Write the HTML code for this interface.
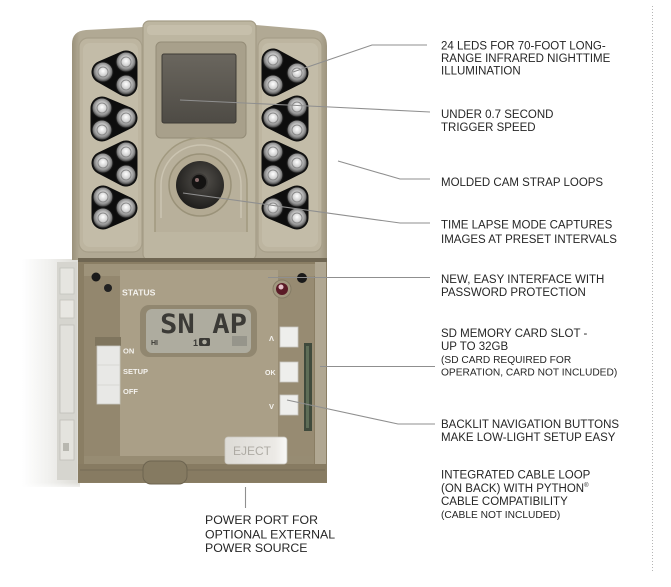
<!DOCTYPE html>
<html><head><meta charset="utf-8"><style>
html,body{margin:0;padding:0;background:#fff;}
body{width:671px;height:587px;overflow:hidden;}
svg{display:block;}
.lb{font-family:"Liberation Sans",Arial,sans-serif;font-size:11.5px;fill:#262626;}
.sm{font-family:"Liberation Sans",Arial,sans-serif;font-size:10.2px;fill:#262626;}
.pw{font-family:"Liberation Sans",Arial,sans-serif;font-size:12.3px;fill:#262626;}
.wt{font-family:"Liberation Sans",Arial,sans-serif;font-weight:bold;fill:#f4f2ee;}
</style></head><body>
<svg width="671" height="587" viewBox="0 0 671 587" xmlns="http://www.w3.org/2000/svg">
<defs>
<radialGradient id="led" cx="50%" cy="45%" r="55%">
<stop offset="0" stop-color="#ffffff"/><stop offset="0.4" stop-color="#d2d2d2"/>
<stop offset="0.75" stop-color="#8a8a8a"/><stop offset="1" stop-color="#2e2e2e"/>
</radialGradient>
<linearGradient id="topbody" x1="0" x2="1" y1="0" y2="0">
<stop offset="0" stop-color="#9a917b"/><stop offset="0.03" stop-color="#b1a994"/>
<stop offset="0.97" stop-color="#b1a994"/><stop offset="1" stop-color="#9d947e"/>
</linearGradient>
<linearGradient id="win" x1="0" x2="0" y1="0" y2="1">
<stop offset="0" stop-color="#6a665e"/><stop offset="1" stop-color="#4e4b45"/>
</linearGradient>
<radialGradient id="lens" cx="55%" cy="40%" r="60%">
<stop offset="0" stop-color="#55524d"/><stop offset="1" stop-color="#1f1e1c"/>
</radialGradient>
<linearGradient id="door" x1="0" x2="1" y1="0" y2="0">
<stop offset="0" stop-color="#ffffff"/><stop offset="0.45" stop-color="#f1f1ef"/>
<stop offset="1" stop-color="#dcdbd5"/>
</linearGradient>
<linearGradient id="doorv" x1="0" x2="0" y1="0" y2="1">
<stop offset="0" stop-color="#fff" stop-opacity="0"/><stop offset="0.85" stop-color="#fff" stop-opacity="0"/>
<stop offset="1" stop-color="#fff" stop-opacity="0.9"/>
</linearGradient>
<linearGradient id="eject" x1="0" x2="1" y1="0" y2="0">
<stop offset="0" stop-color="#dddbd6"/><stop offset="0.8" stop-color="#eceae6"/><stop offset="1" stop-color="#f8f8f6"/>
</linearGradient>
</defs>

<!-- dotted divider -->
<line x1="652.5" y1="6" x2="652.5" y2="572" stroke="#b5b5b5" stroke-width="1" stroke-dasharray="1,2"/>

<!-- ===== DOOR (left) ===== -->
<rect x="22" y="259" width="58" height="228" fill="url(#door)"/>
<rect x="57" y="262" width="20" height="218" fill="#d6d5cf"/>
<rect x="60" y="268" width="14" height="26" fill="#e6e5e0" stroke="#c4c3bc" stroke-width="0.8"/>
<rect x="60" y="300" width="14" height="18" fill="#e8e7e2" stroke="#c4c3bc" stroke-width="0.8"/>
<rect x="60" y="325" width="14" height="88" fill="#e2e1dc" stroke="#c0bfb8" stroke-width="0.8"/>
<rect x="60" y="420" width="14" height="40" fill="#e4e3de" stroke="#c0bfb8" stroke-width="0.8"/>
<rect x="63" y="443" width="6" height="8" fill="#b8b7b0"/>
<rect x="22" y="440" width="58" height="50" fill="url(#doorv)"/>

<!-- ===== TOP BODY ===== -->
<path d="M72,260 L72,44 Q72,31 86,30 L143,27 L256,25 L314,30 Q327,32 327,46 L327,260 Z" fill="url(#topbody)"/>
<rect x="79" y="38" width="63" height="214" rx="9" fill="#bdb5a0" stroke="#a79f89" stroke-width="1.2"/>
<rect x="83" y="43" width="55" height="204" rx="7" fill="#c3bca8"/>
<rect x="258" y="38" width="64" height="214" rx="9" fill="#bdb5a0" stroke="#a79f89" stroke-width="1.2"/>
<rect x="262" y="43" width="56" height="204" rx="7" fill="#c3bca8"/>
<rect x="143" y="21" width="113" height="239" rx="6" fill="#bdb6a1" stroke="#a49c86" stroke-width="1.2"/>
<rect x="147" y="25" width="105" height="10" rx="4" fill="#c6bfab"/>
<rect x="156" y="42" width="90" height="96" rx="5" fill="#a8a08b" stroke="#948c77" stroke-width="1"/>
<rect x="162" y="54" width="74" height="69" rx="2" fill="url(#win)"/>
<rect x="162" y="54" width="74" height="69" rx="2" fill="none" stroke="#3e3b36" stroke-width="1"/>
<path d="M155,232 L155,184 A46,46 0 0 1 247,184 L247,232" fill="#b8b09b" stroke="#a1997f" stroke-width="1.5"/>
<path d="M161,218 L161,185 A40,40 0 0 1 241,185 L241,218" fill="none" stroke="#cbc4b1" stroke-width="1.5"/>
<circle cx="200" cy="185" r="31" fill="#b3aa93" stroke="#9a9279" stroke-width="1.5"/>
<circle cx="200" cy="185" r="24" fill="url(#lens)"/>
<circle cx="199" cy="182" r="8" fill="#141312" stroke="#3a3835" stroke-width="1.5"/>
<circle cx="197" cy="180" r="2" fill="#8a6c6c"/>

<!-- LED clusters -->
<g fill="#0d0d0d" stroke="#0d0d0d" stroke-width="23" stroke-linejoin="round">
<polygon points="103,72 126,62 126,85"/>
<polygon points="102,108 102,130 126,118"/>
<polygon points="126,152 103,163 126,175"/>
<polygon points="103,197 103,218 126,208"/>
<polygon points="273,60 273,85 297,73"/>
<polygon points="297,107 273,118 297,130"/>
<polygon points="273,152 297,163 273,175"/>
<polygon points="297,197 273,208 297,218"/>
</g>
<g fill="url(#led)" stroke="#1a1a1a" stroke-width="1">
<circle cx="103" cy="72" r="10"/><circle cx="126" cy="62" r="10"/><circle cx="126" cy="85" r="10"/>
<circle cx="102" cy="108" r="10"/><circle cx="102" cy="130" r="10"/><circle cx="126" cy="118" r="10"/>
<circle cx="126" cy="152" r="10"/><circle cx="103" cy="163" r="10"/><circle cx="126" cy="175" r="10"/>
<circle cx="103" cy="197" r="10"/><circle cx="103" cy="218" r="10"/><circle cx="126" cy="208" r="10"/>
<circle cx="273" cy="60" r="10"/><circle cx="273" cy="85" r="10"/><circle cx="297" cy="73" r="10"/>
<circle cx="297" cy="107" r="10"/><circle cx="273" cy="118" r="10"/><circle cx="297" cy="130" r="10"/>
<circle cx="273" cy="152" r="10"/><circle cx="297" cy="163" r="10"/><circle cx="273" cy="175" r="10"/>
<circle cx="297" cy="197" r="10"/><circle cx="273" cy="208" r="10"/><circle cx="297" cy="218" r="10"/>
</g>
<g fill="none" stroke="#8a8a8a" stroke-width="1">
<circle cx="103" cy="72" r="5"/><circle cx="126" cy="62" r="5"/><circle cx="126" cy="85" r="5"/>
<circle cx="102" cy="108" r="5"/><circle cx="102" cy="130" r="5"/><circle cx="126" cy="118" r="5"/>
<circle cx="126" cy="152" r="5"/><circle cx="103" cy="163" r="5"/><circle cx="126" cy="175" r="5"/>
<circle cx="103" cy="197" r="5"/><circle cx="103" cy="218" r="5"/><circle cx="126" cy="208" r="5"/>
<circle cx="273" cy="60" r="5"/><circle cx="273" cy="85" r="5"/><circle cx="297" cy="73" r="5"/>
<circle cx="297" cy="107" r="5"/><circle cx="273" cy="118" r="5"/><circle cx="297" cy="130" r="5"/>
<circle cx="273" cy="152" r="5"/><circle cx="297" cy="163" r="5"/><circle cx="273" cy="175" r="5"/>
<circle cx="297" cy="197" r="5"/><circle cx="273" cy="208" r="5"/><circle cx="297" cy="218" r="5"/>
</g>

<!-- ===== BOTTOM BODY ===== -->
<rect x="78" y="258" width="249" height="225" fill="#8a7e64"/>
<rect x="78" y="258" width="249" height="4" fill="#6f6652"/>
<rect x="84" y="264" width="232" height="12" fill="#9e937a"/>
<rect x="84" y="276" width="36" height="180" fill="#93876e"/>
<rect x="120" y="270" width="158" height="186" fill="#aa9f87"/>
<rect x="278" y="276" width="36" height="180" fill="#978b72"/>
<rect x="315" y="262" width="11" height="220" fill="#b0a792"/>
<rect x="84" y="456" width="230" height="8" fill="#978c73"/>
<rect x="78" y="464" width="249" height="18" fill="#877b62"/>
<line x1="80" y1="470" x2="325" y2="470" stroke="#746b56" stroke-width="1"/>
<rect x="143" y="461" width="44" height="23" rx="8" fill="#857a61" stroke="#6d6450" stroke-width="1"/>
<circle cx="96" cy="277" r="4.5" fill="#1a1a1a"/>
<circle cx="108" cy="288" r="4" fill="#222"/>
<circle cx="302" cy="278" r="5" fill="#1a1a1a"/>
<circle cx="282" cy="289" r="9" fill="#a29880" stroke="#857b65" stroke-width="1"/>
<circle cx="282" cy="289" r="6" fill="#5a1a26"/>
<circle cx="281" cy="287" r="2.5" fill="#e4c0c8"/>
<text x="122" y="295.5" class="wt" font-size="8.7">STATUS</text>
<!-- LCD -->
<rect x="140" y="305" width="117" height="52" rx="9" fill="#918770"/>
<rect x="146" y="309" width="105" height="44" rx="6" fill="#aeac9f"/>
<text x="160" y="333" font-family="DejaVu Sans Mono,'Liberation Mono',monospace" font-weight="bold" font-size="27" fill="#3b3a36" textLength="87" lengthAdjust="spacingAndGlyphs">SN AP</text>
<text x="151" y="345" font-family="'Liberation Sans',sans-serif" font-weight="bold" font-size="7" fill="#3b3a36">HI</text>
<text x="193" y="346" font-family="'Liberation Sans',sans-serif" font-weight="bold" font-size="9" fill="#3b3a36">1</text>
<rect x="199" y="338" width="11" height="8" rx="1.5" fill="#3b3a36"/>
<circle cx="204.5" cy="342" r="2.3" fill="#aeac9f"/>
<rect x="232" y="336" width="15" height="10" fill="#96958b"/>
<!-- power switch -->
<rect x="95" y="337" width="26" height="9" fill="#7f755e"/>
<rect x="97" y="346" width="23" height="58" fill="#e8e8e6" stroke="#c9c8c2" stroke-width="0.8"/>
<line x1="97" y1="365" x2="120" y2="365" stroke="#d4d3ce" stroke-width="0.8"/>
<line x1="97" y1="385" x2="120" y2="385" stroke="#d4d3ce" stroke-width="0.8"/>
<text x="123" y="353.5" class="wt" font-size="7.5">ON</text>
<text x="123" y="374" class="wt" font-size="7.5">SETUP</text>
<text x="123" y="394" class="wt" font-size="7.5">OFF</text>
<!-- nav buttons -->
<rect x="280" y="327" width="18" height="20" fill="#eeeeec" stroke="#c8c6c0" stroke-width="0.8"/>
<rect x="280" y="362" width="18" height="20" fill="#eeeeec" stroke="#c8c6c0" stroke-width="0.8"/>
<rect x="280" y="395" width="18" height="20" fill="#eeeeec" stroke="#c8c6c0" stroke-width="0.8"/>
<text x="269" y="341" class="wt" font-size="7.5">Λ</text>
<text x="265" y="375" class="wt" font-size="7">OK</text>
<text x="269" y="409" class="wt" font-size="7.5">V</text>
<!-- SD slot -->
<rect x="304" y="343" width="8" height="88" fill="#3f4a3c"/>
<rect x="306" y="346" width="3" height="82" fill="#5e6d57"/>
<!-- eject -->
<rect x="225" y="437" width="62" height="27" rx="3" fill="url(#eject)" stroke="#c9c6bf" stroke-width="0.8"/>
<text x="233" y="455" font-family="'Liberation Sans',sans-serif" font-size="12" fill="#aeaba4">EJECT</text>

<!-- ===== LEADER LINES ===== -->
<g fill="none" stroke="#8f8f8f" stroke-width="1.1">
<polyline points="293,72 372,45 427,45"/>
<polyline points="180,100 330,107 430,112"/>
<polyline points="338,161 400,179 430,179"/>
<polyline points="183,193 400,223 430,223"/>
<line x1="268" y1="277.5" x2="430" y2="277.5"/>
<line x1="320" y1="366.5" x2="435" y2="366.5"/>
<polyline points="287,400 398,424 435,424"/>
<line x1="245.5" y1="487" x2="245.5" y2="508"/>
</g>

<!-- ===== LABELS ===== -->
<text class="lb"><tspan x="441" y="49.5">24 LEDS FOR 70-FOOT LONG-</tspan><tspan x="441" y="62">RANGE INFRARED NIGHTTIME</tspan><tspan x="441" y="74.5">ILLUMINATION</tspan></text>
<text class="lb"><tspan x="441" y="117.8">UNDER 0.7 SECOND</tspan><tspan x="441" y="131.2">TRIGGER SPEED</tspan></text>
<text class="lb" x="441" y="186.2">MOLDED CAM STRAP LOOPS</text>
<text class="lb"><tspan x="441" y="228.5">TIME LAPSE MODE CAPTURES</tspan><tspan x="441" y="242.8">IMAGES AT PRESET INTERVALS</tspan></text>
<text class="lb"><tspan x="441" y="282.8">NEW, EASY INTERFACE WITH</tspan><tspan x="441" y="296.2">PASSWORD PROTECTION</tspan></text>
<text class="lb"><tspan x="441" y="336.8">SD MEMORY CARD SLOT -</tspan><tspan x="441" y="349.8">UP TO 32GB</tspan></text>
<text class="sm"><tspan x="441" y="362.8">(SD CARD REQUIRED FOR</tspan><tspan x="441" y="375.6">OPERATION, CARD NOT INCLUDED)</tspan></text>
<text class="lb"><tspan x="441" y="427.8">BACKLIT NAVIGATION BUTTONS</tspan><tspan x="441" y="441.2">MAKE LOW-LIGHT SETUP EASY</tspan></text>
<text class="lb"><tspan x="441" y="478.5">INTEGRATED CABLE LOOP</tspan><tspan x="441" y="491.8">(ON BACK) WITH PYTHON<tspan font-size="6" dy="-5">®</tspan></tspan><tspan x="441" y="505.2">CABLE COMPATIBILITY</tspan></text>
<text class="sm" x="441" y="517.8">(CABLE NOT INCLUDED)</text>
<text class="pw"><tspan x="205" y="523.8">POWER PORT FOR</tspan><tspan x="205" y="538.5">OPTIONAL EXTERNAL</tspan><tspan x="205" y="552.2">POWER SOURCE</tspan></text>
</svg>
</body></html>
